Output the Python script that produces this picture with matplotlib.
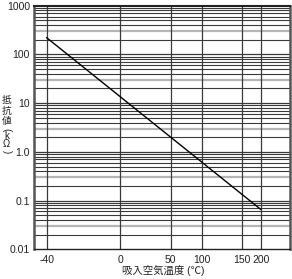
import numpy as np
import matplotlib
matplotlib.use("Agg")
import matplotlib.pyplot as plt

plt.rcParams['font.family'] = ['Liberation Sans', 'Noto Sans CJK JP', 'DejaVu Sans']

# data
temps = [-40, 200]
resistance = [220, 0.066]

x_ticks = [-40, 0, 50, 100, 150, 200]
x_ticklabels = ['-40', '0', '50', '100', '150', '200']
y_ticks = [0.01, 0.1, 1.0, 10, 100, 1000]
y_ticklabels = ['0.01', '0.1', '1.0', '10', '100', '1000']
y_label_chars = ['抵', '抗', '値', '(', 'k', 'Ω', ')']
x_label = '吸入空気温度 (℃)'

# nonlinear temperature axis (as printed on the chart)
scale_t = [-47, -40, 0, 50, 100, 150, 200, 277]
scale_p = [34.0, 46.7, 120.0, 170.7, 201.7, 241.7, 260.7, 290.0]

def fwd(t):
    return np.interp(t, scale_t, scale_p)

def inv(p):
    return np.interp(p, scale_p, scale_t)

fig = plt.figure(figsize=(2.92, 2.79), dpi=100)
ax = fig.add_axes([34/292, 1-249.3/279, (290-34)/292, (249.3-5.7)/279])
ax.set_xscale('function', functions=(fwd, inv))
ax.set_yscale('log')
ax.set_xlim(-47, 277)
ax.set_ylim(0.01, 1000)

# grid
for dec in [0.01, 0.1, 1, 10, 100]:
    for m in range(2, 10):
        v = dec * m
        if m == 3:
            ax.axhline(v, color='#b5b5b5', lw=1.6, zorder=1)
        else:
            ax.axhline(v, color='#3a3a3a', lw=0.8, zorder=1)
for v in y_ticks[1:-1]:
    ax.axhline(v, color='#3a3a3a', lw=0.9, zorder=1)
for t in x_ticks:
    ax.axvline(t, color='#3a3a3a', lw=0.9, zorder=1)

ax.plot(temps, resistance, color='black', lw=1.0, zorder=3)

ax.set_xticks(x_ticks)
ax.set_xticklabels(x_ticklabels)
ax.set_yticks(y_ticks)
ax.set_yticklabels(y_ticklabels)
ax.minorticks_off()
ax.tick_params(axis='both', length=0, labelsize=7.5, colors='#222222')
ax.tick_params(axis='x', pad=4)
ax.tick_params(axis='y', pad=3)

for s in ['left', 'right']:
    ax.spines[s].set_linewidth(1.8)
    ax.spines[s].set_color('#555555')
ax.spines['top'].set_linewidth(1.5)
ax.spines['top'].set_color('#222222')
ax.spines['bottom'].set_linewidth(1.0)
ax.spines['bottom'].set_color('#222222')

fig.text(163/292, 1-270/279, x_label, ha='center', va='center',
         fontsize=7.5, color='#222222')

# vertical stacked y-label (parentheses turned for vertical writing)
ypos = [100.0, 110.5, 121.0, 129.5, 136.0, 144.5, 152.0]
rots = [0, 0, 0, -90, 0, 0, -90]
for ch, yp, r in zip(y_label_chars, ypos, rots):
    fig.text(6.5/292, 1-yp/279, ch, ha='center', va='center', rotation=r,
             fontsize=7, color='#222222')

fig.savefig('out.png', dpi=100)
